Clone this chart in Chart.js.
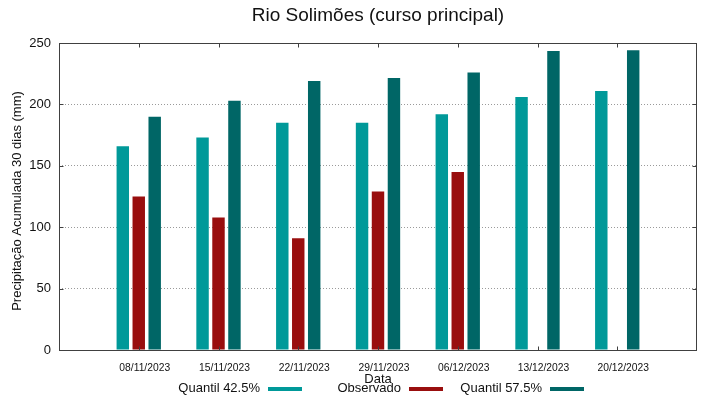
<!DOCTYPE html>
<html>
<head>
<meta charset="utf-8">
<title>Rio Solimões (curso principal)</title>
<script src="https://cdn.jsdelivr.net/npm/chart.js@4.4.1/dist/chart.umd.min.js"></script>
<style>
  html, body { margin: 0; padding: 0; background: #fff; }
  #wrap { width: 719px; height: 399px; }
</style>
</head>
<body>
<div id="wrap"><canvas id="rioChart" width="719" height="399"></canvas></div>
<script>
const dates = ["08/11/2023", "15/11/2023", "22/11/2023", "29/11/2023", "06/12/2023", "13/12/2023", "20/12/2023"];
const quantil425 = [166, 173, 185, 185, 192, 206, 211];
const observado = [125, 108, 91, 129, 145, null, null];
const quantil575 = [190, 203, 219, 221.5, 226, 243.5, 244];
const yTicks = [0, 50, 100, 150, 200, 250];

const FONT = "'Liberation Sans', Arial, sans-serif";
const TEXT = "#111";

// gnuplot leaves an empty half slot at each end, so pad the categories
const labels = ["", ...dates, ""];
const pad = (arr) => [null, ...arr, null];

// frame, inner tics, titles and gnuplot style legend (text then swatch)
const gnuplotDecor = {
  id: "gnuplotDecor",
  afterDatasetsDraw(chart) {
    const { ctx, chartArea: a, scales } = chart;
    const x = scales.x, y = scales.y;
    const L = Math.round(a.left) + 0.5, R = Math.round(a.right) - 0.5;
    const T = Math.round(a.top) + 0.5, B = Math.round(a.bottom) + 0.5;
    ctx.save();
    ctx.strokeStyle = "#404040";
    ctx.lineWidth = 1;
    ctx.strokeRect(L, T, R - L, B - T);
    ctx.beginPath();
    dates.forEach((d, i) => {
      const px = Math.round(x.getPixelForValue(i + 1)) + 0.5;
      ctx.moveTo(px, T); ctx.lineTo(px, T + 4);
      ctx.moveTo(px, B); ctx.lineTo(px, B - 4);
    });
    yTicks.forEach((v) => {
      const py = Math.round(y.getPixelForValue(v)) + 0.5;
      ctx.moveTo(L, py); ctx.lineTo(L + 4, py);
      ctx.moveTo(R, py); ctx.lineTo(R - 4, py);
    });
    ctx.stroke();

    ctx.fillStyle = TEXT;
    ctx.textBaseline = "middle";
    ctx.textAlign = "center";
    ctx.font = "19px " + FONT;
    ctx.fillText("Rio Solimões (curso principal)", (a.left + a.right) / 2, 16);
    ctx.font = "13px " + FONT;
    ctx.fillText("Data", (a.left + a.right) / 2, 379);

    ctx.save();
    ctx.translate(17.5, 201);
    ctx.rotate(-Math.PI / 2);
    ctx.fillText("Precipitação Acumulada 30 dias (mm)", 0, 0);
    ctx.restore();

    ctx.textAlign = "right";
    chart.data.datasets.forEach((ds, i) => {
      const tx = 260 + i * 141;
      ctx.fillStyle = TEXT;
      ctx.fillText(ds.label, tx, 388);
      ctx.fillStyle = ds.backgroundColor;
      ctx.fillRect(tx + 8, 387, 34, 4);
    });
    ctx.restore();
  }
};

const ctx = document.getElementById("rioChart").getContext("2d");
const rioChart = new Chart(ctx, {
  type: "bar",
  data: {
    labels: labels,
    datasets: [
      {
        label: "Quantil 42.5%",
        data: pad(quantil425),
        backgroundColor: "#009999",
      },
      {
        label: "Observado",
        data: pad(observado),
        backgroundColor: "#990e0e",
      },
      {
        label: "Quantil 57.5%",
        data: pad(quantil575),
        backgroundColor: "#006666",
      },
    ],
  },
  options: {
    responsive: false,
    animation: false,
    devicePixelRatio: 1,
    categoryPercentage: 0.6,
    barPercentage: 0.78,
    layout: {
      padding: { top: 43, right: 22, bottom: 0, left: 0 },
    },
    scales: {
      x: {
        offset: false,
        grid: { display: false, offset: false, drawTicks: false },
        border: { display: false },
        afterFit: (scale) => { scale.height = 49; },
        ticks: {
          autoSkip: false,
          maxRotation: 0,
          minRotation: 0,
          labelOffset: 6,
          padding: 12,
          color: TEXT,
          font: { family: FONT, size: 10.3 },
        },
      },
      y: {
        min: 0,
        max: 250,
        afterBuildTicks: (scale) => { scale.ticks = yTicks.map((v) => ({ value: v })); },
        afterFit: (scale) => { scale.width = 59; },
        grid: {
          drawTicks: false,
          color: (c) => (c.tick && (c.tick.value === 0 || c.tick.value === 250)) ? "rgba(0,0,0,0)" : "#9a9a9a",
        },
        border: { display: false, dash: [1, 2] },
        ticks: {
          padding: 8,
          color: TEXT,
          font: { family: FONT, size: 13 },
        },
      },
    },
    plugins: {
      legend: { display: false },
      title: { display: false },
      tooltip: { enabled: false },
    },
  },
  plugins: [gnuplotDecor],
});
</script>
</body>
</html>
